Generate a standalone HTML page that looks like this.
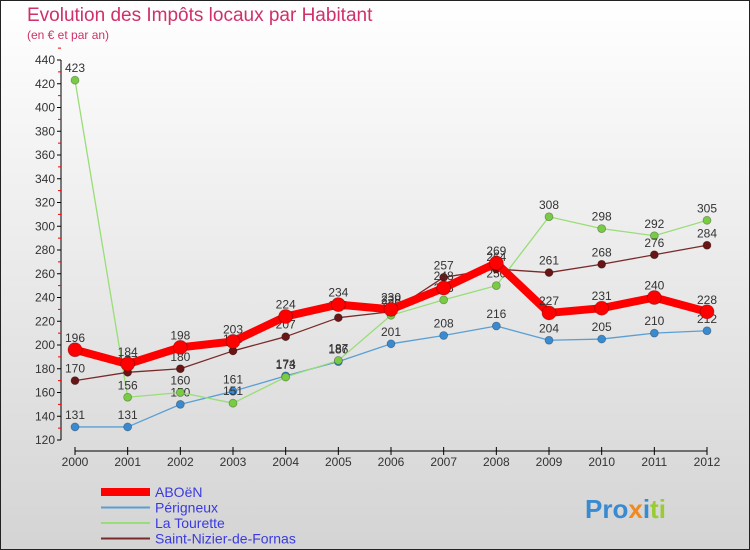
<!DOCTYPE html>
<html><head><meta charset="utf-8"><style>
body{margin:0}
#wrap{position:relative;width:750px;height:550px;overflow:hidden;background:linear-gradient(#fff,#d4d4d4);font-family:"Liberation Sans","DejaVu Sans",sans-serif;box-sizing:border-box;border:1px solid #222}
.title{position:absolute;left:26px;top:4px;font-size:19px;color:#d0306a}
.sub{position:absolute;left:26px;top:27px;font-size:12px;color:#d0306a}
svg text{font-family:"Liberation Sans","DejaVu Sans",sans-serif}
</style></head><body>
<div id="wrap">
<div class="title">Evolution des Impôts locaux par Habitant</div>
<div class="sub">(en € et par an)</div>
<svg id="c" width="750" height="550" style="position:absolute;left:-1px;top:-1px"></svg>
</div>
<script>
const years=["2000","2001","2002","2003","2004","2005","2006","2007","2008","2009","2010","2011","2012"];
const aboen=[196,184,198,203,224,234,230,248,269,227,231,240,228];
const perigneux=[131,131,150,161,174,186,201,208,216,204,205,210,212];
const tourette=[423,156,160,151,173,187,225,238,250,308,298,292,305];
const nizier=[170,177,180,195,207,223,228,257,264,261,268,276,284];
const yTicks=[120,140,160,180,200,220,240,260,280,300,320,340,360,380,400,420,440];
const NS="http://www.w3.org/2000/svg";
const svg=document.getElementById('c');
const X=i=>75+i*(707-75)/12;
const Y=v=>440-(v-120)*380/320;
function mk(t,a,p){const e=document.createElementNS(NS,t);for(const k in a)e.setAttribute(k,a[k]);(p||svg).appendChild(e);return e;}
const ax=mk('g',{});


mk('line',{x1:61,y1:Y(440),x2:61,y2:Y(120),stroke:'#000'},ax);
yTicks.forEach(v=>{
 mk('line',{x1:57,y1:Y(v),x2:61,y2:Y(v),stroke:'#000'},ax);
 mk('line',{x1:58,y1:Y(v+10),x2:61,y2:Y(v+10),stroke:'#e00'},ax);
 const t=mk('text',{x:55,y:Y(v)+4,'text-anchor':'end','font-size':12,fill:'#333'},ax);t.textContent=v;
 
 
});
const xa=mk('g',{});


mk('line',{x1:X(0),y1:451,x2:X(12),y2:451,stroke:'#000'},xa);
years.forEach((y,i)=>{
 mk('line',{x1:X(i),y1:447,x2:X(i),y2:455,stroke:'#000'},xa);
 const t=mk('text',{x:X(i),y:466,'text-anchor':'middle','font-size':12,fill:'#333'},xa);t.textContent=y;
 
 
});
function series(d,col,w,r,name,pc){
 const g=mk('g',{});
 
 
 mk('polyline',{points:d.map((v,i)=>X(i)+','+Y(v)).join(' '),fill:'none',stroke:col,'stroke-width':w,'stroke-linejoin':'round'},g);
 d.forEach((v,i)=>{
  const c=mk('circle',{cx:X(i),cy:Y(v),r:r,fill:pc||col,stroke:'rgba(0,0,0,0.3)','stroke-width':0.8},g);
  
  
  const t=mk('text',{x:X(i),y:Y(v)-8,'text-anchor':'middle','font-size':12,fill:'#333'},g);t.textContent=v;
  
  
 });
}
series(perigneux,'#5a9fd4',1.3,4,'series-perigneux','#3a8ad0');
series(tourette,'#99dd77',1.3,4,'series-la-tourette','#77cc44');
series(nizier,'#7a2a2a',1.3,4,'series-saint-nizier','#6a1515');
series(aboen,'#ff0000',8,7,'series-aboen','#ff0000');
const L=[['ABOëN','#ff0000',8],['Périgneux','#5a9fd4',2],['La Tourette','#99dd77',2],['Saint-Nizier-de-Fornas','#7a2a2a',2]];
L.forEach((l,i)=>{
 const g=mk('g',{});
 
 
 const y=492+i*15.5;
 mk('line',{x1:101,y1:y,x2:150,y2:y,stroke:l[1],'stroke-width':l[2]},g);
 const t=mk('text',{x:155,y:y+5,'font-size':14,fill:'#3a3ae0'},g);t.textContent=l[0];
});
const lg=mk('text',{x:585,y:518,'font-size':26,'font-weight':'bold',fill:'#3a8ad0'});


lg.innerHTML='<tspan fill="#3a8ad0">Pro</tspan><tspan fill="#f08a20">x</tspan><tspan fill="#3a8ad0">i</tspan><tspan fill="#99cc33">ti</tspan>';
</script>
</body></html>
